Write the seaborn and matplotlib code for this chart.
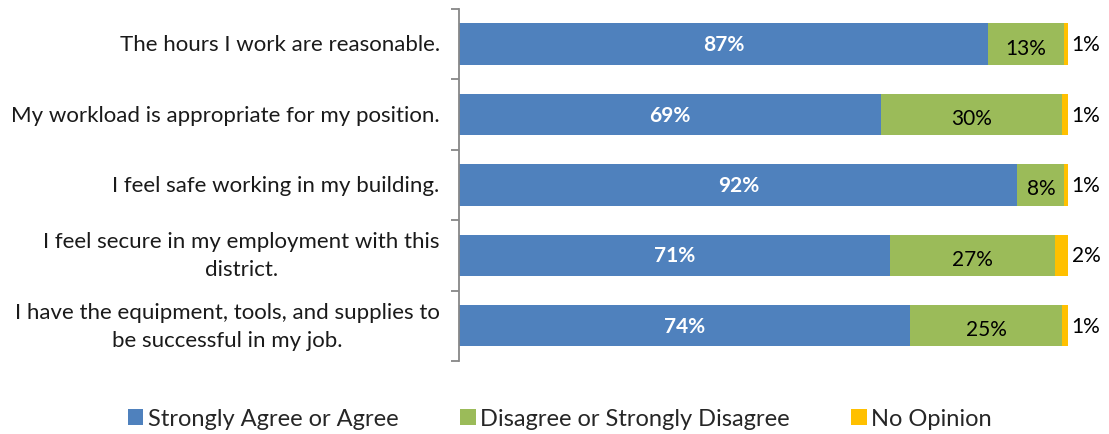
import matplotlib
matplotlib.use("Agg")
import matplotlib.pyplot as plt
from matplotlib.patches import Patch
import numpy as np
import pandas as pd
import seaborn as sns

statements = [
    "The hours I work are reasonable.",
    "My workload is appropriate for my position.",
    "I feel safe working in my building.",
    "I feel secure in my employment with this\ndistrict.",
    "I have the equipment, tools, and supplies to\nbe successful in my job.",
]
agree = [86.8, 69.3, 91.7, 70.7, 74.1]
disagree = [12.6, 29.8, 7.7, 27.1, 25.0]
no_opinion = [0.6, 0.9, 0.6, 2.2, 0.9]
series_names = ["Strongly Agree or Agree", "Disagree or Strongly Disagree", "No Opinion"]
colors = ["#4F81BD", "#9BBB59", "#FFC000"]

sns.set_theme(style="white")
plt.rcParams["font.family"] = "Lato"

df = pd.DataFrame({
    "statement": statements,
    "agree": agree,
    "disagree": disagree,
    "none": no_opinion,
})
df["c1"] = df["agree"]
df["c2"] = df["agree"] + df["disagree"]
df["c3"] = df["c2"] + df["none"]

fig = plt.figure(figsize=(11.09, 4.35), dpi=100)
ax = fig.add_axes([0.414, 0.168, 0.549, 0.809])

# stacked bars drawn as cumulative totals, back to front
for col, color in zip(["c3", "c2", "c1"], colors[::-1]):
    sns.barplot(data=df, x=col, y="statement", orient="h", color=color,
                width=0.59, saturation=1, ax=ax, linewidth=0)

ax.set_xlim(0, 100)
ax.set_ylim(4.5, -0.5)
ax.set_xlabel("")
ax.set_ylabel("")
ax.set_xticks([])

for s in ["top", "right", "bottom"]:
    ax.spines[s].set_visible(False)
ax.spines["left"].set_color("#878787")
ax.spines["left"].set_linewidth(1.3)

ax.set_yticks(range(len(statements)))
ax.set_yticklabels([""] * len(statements))
ax.tick_params(axis="y", which="major", length=0)
ax.set_yticks(np.arange(-0.5, len(statements), 1.0), minor=True)
ax.tick_params(axis="y", which="minor", length=6, width=1.3, color="#878787", left=True)

# category labels: first line right-aligned, any further line centred under it
label_tf = matplotlib.transforms.blended_transform_factory(ax.transAxes, ax.transData)
fig.canvas.draw()
renderer = fig.canvas.get_renderer()
for i, s in enumerate(statements):
    lines = s.split("\n")
    if len(lines) == 1:
        ax.text(-0.032, i, s, transform=label_tf, ha="right", va="center",
                fontsize=16, color="#1a1a1a")
        continue
    first = ax.text(-0.032, i - 0.2, lines[0], transform=label_tf, ha="right",
                    va="center", fontsize=16, color="#1a1a1a")
    bb = first.get_window_extent(renderer)
    cx_axes = ax.transAxes.inverted().transform(((bb.x0 + bb.x1) / 2, 0))[0]
    ax.text(cx_axes, i + 0.2, lines[1], transform=label_tf, ha="center",
            va="center", fontsize=16, color="#1a1a1a")

for i in range(len(statements)):
    a, d, n = agree[i], disagree[i], no_opinion[i]
    ax.text(a / 2, i, f"{round(a)}%", ha="center", va="center",
            color="white", fontsize=15, fontweight="bold")
    ax.text(a + d / 2, i + 0.05, f"{round(d)}%", ha="center", va="center",
            color="black", fontsize=15)
    ax.text(a + d + n + 0.6, i, f"{round(n)}%", ha="left", va="center",
            color="black", fontsize=15)

handles = [Patch(facecolor=c, edgecolor="none") for c in colors]
fig.legend(handles, series_names, loc="center", bbox_to_anchor=(0.505, 0.035),
           ncol=3, frameon=False, fontsize=17, handlelength=0.65, handleheight=0.65,
           handletextpad=0.2, columnspacing=2.6)

fig.savefig("out.png", dpi=100)
